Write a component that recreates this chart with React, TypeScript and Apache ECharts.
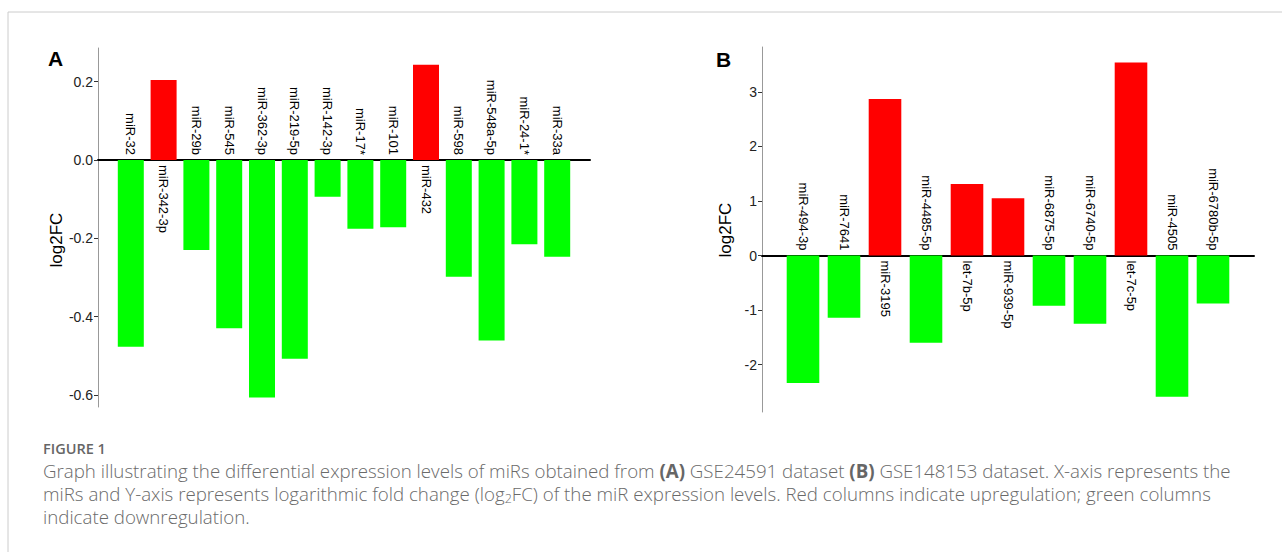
import React, { useEffect, useRef } from "react";
import * as echarts from "echarts";

const catsA = ["miR-32", "miR-342-3p", "miR-29b", "miR-545", "miR-362-3p", "miR-219-5p", "miR-142-3p", "miR-17*", "miR-101", "miR-432", "miR-598", "miR-548a-5p", "miR-24-1*", "miR-33a"];
const valsA = [-0.477, 0.204, -0.23, -0.43, -0.607, -0.508, -0.094, -0.176, -0.172, 0.243, -0.298, -0.461, -0.215, -0.247];
const ticksA = [-0.6, -0.4, -0.2, 0, 0.2];

const catsB = ["miR-494-3p", "miR-7641", "miR-3195", "miR-4485-5p", "let-7b-5p", "miR-939-5p", "miR-6875-5p", "miR-6740-5p", "let-7c-5p", "miR-4505", "miR-6780b-5p"];
const valsB = [-2.34, -1.14, 2.87, -1.6, 1.31, 1.05, -0.92, -1.25, 3.54, -2.59, -0.88];
const ticksB = [-2, -1, 0, 1, 2, 3];

const captionLines = [
  "Graph illustrating the differential expression levels of miRs obtained from {b|(A)} GSE24591 dataset {b|(B)} GSE148153 dataset. X-axis represents the",
  "miRs and Y-axis represents logarithmic fold change (log{s|2}FC) of the miR expression levels. Red columns indicate upregulation; green columns",
  "indicate downregulation.",
];

const FONT = "'Liberation Sans', Arial, Helvetica, sans-serif";
const CAPFONT = "'Open Sans', 'Noto Sans', sans-serif";
const RED = "#ff0000";
const GREEN = "#00ff00";

function barSeries(cats: string[], vals: number[], idx: number, width: number) {
  return {
    type: "bar",
    xAxisIndex: idx,
    yAxisIndex: idx,
    barWidth: width,
    data: vals.map((v, i) => ({
      value: [i, v],
      itemStyle: { color: v >= 0 ? RED : GREEN },
      label: {
        position: v < 0 ? "top" : "bottom",
        align: v < 0 ? "right" : "left",
      },
    })),
    label: {
      show: true,
      rotate: -90,
      verticalAlign: "middle",
      distance: 5,
      fontSize: 13,
      fontFamily: FONT,
      color: "#000",
      formatter: (p: any) => cats[p.dataIndex],
    },
  };
}

export default function App() {
  const ref = useRef<HTMLDivElement>(null);
  useEffect(() => {
    if (!ref.current) return;
    const chart = echarts.init(ref.current, undefined, { renderer: "svg" });
    const yAxisBase = (min: number, max: number, ticks: number[], fmt: (v: number) => string) => ({
      type: "value",
      min,
      max,
      axisLine: { show: true, onZero: false, lineStyle: { color: "#999", width: 1 } },
      axisTick: { show: true, length: 4, customValues: ticks, lineStyle: { color: "#333", width: 1 } },
      axisLabel: {
        customValues: ticks,
        formatter: fmt,
        fontSize: 14,
        fontFamily: FONT,
        color: "#222",
        margin: 5,
      },
      splitLine: { show: false },
    });
    const xAxisBase = (gi: number, max: number) => ({
      type: "value",
      gridIndex: gi,
      min: -1,
      max,
      axisLine: { show: true, onZero: true, lineStyle: { color: "#000", width: 2 } },
      axisTick: { show: false },
      axisLabel: { show: false },
      splitLine: { show: false },
    });
    chart.setOption({
      animation: false,
      grid: [
        { left: 98, top: 48, width: 492, height: 359 },
        { left: 762, top: 47, width: 492, height: 365 },
      ],
      xAxis: [xAxisBase(0, catsA.length), xAxisBase(1, catsB.length)],
      yAxis: [
        { ...yAxisBase(-0.631, 0.286, ticksA, (v: number) => v.toFixed(1)), gridIndex: 0 },
        { ...yAxisBase(-2.87, 3.824, ticksB, (v: number) => String(Math.round(v))), gridIndex: 1 },
      ],
      series: [barSeries(catsA, valsA, 0, 26), barSeries(catsB, valsB, 1, 32.6)],
      graphic: [
        {
          type: "rect",
          shape: { x: 8, y: 12, width: 1400, height: 700 },
          style: { fill: "none", stroke: "#cccccc", lineWidth: 1 },
          silent: true,
        },
        {
          type: "text",
          x: 48,
          y: 58,
          style: { text: "A", font: `bold 21px ${FONT}`, fill: "#000", verticalAlign: "middle" },
        },
        {
          type: "text",
          x: 716,
          y: 59,
          style: { text: "B", font: `bold 21px ${FONT}`, fill: "#000", verticalAlign: "middle" },
        },
        {
          type: "text",
          x: 56,
          y: 240,
          rotation: Math.PI / 2,
          style: { text: "log2FC", font: `17px ${FONT}`, fill: "#000", align: "center", verticalAlign: "middle" },
        },
        {
          type: "text",
          x: 725,
          y: 230,
          rotation: Math.PI / 2,
          style: { text: "log2FC", font: `17px ${FONT}`, fill: "#000", align: "center", verticalAlign: "middle" },
        },
        {
          type: "text",
          x: 43,
          y: 448,
          style: { text: "FIGURE 1", font: `600 14.5px ${CAPFONT}`, fill: "#666", verticalAlign: "middle" },
        },
        ...captionLines.map((t, i) => ({
          type: "text",
          x: 43,
          y: 470 + i * 23,
          style: {
            text: t,
            fontFamily: CAPFONT,
            fontSize: 18.7,
            fontWeight: 300,
            fill: "#6a6a6a",
            lineHeight: 23,
            verticalAlign: "middle",
            rich: {
              b: { fontFamily: CAPFONT, fontSize: 18.7, fontWeight: "bold", fill: "#666", lineHeight: 23 },
              s: { fontFamily: CAPFONT, fontSize: 12.5, fontWeight: 300, fill: "#6a6a6a", lineHeight: 16, verticalAlign: "bottom" },
            },
          },
        })),
      ],
    });
    return () => chart.dispose();
  }, []);
  return (
    <div
      ref={ref}
      style={{ position: "fixed", left: 0, top: 0, width: 1282, height: 552, background: "#fff" }}
    />
  );
}
